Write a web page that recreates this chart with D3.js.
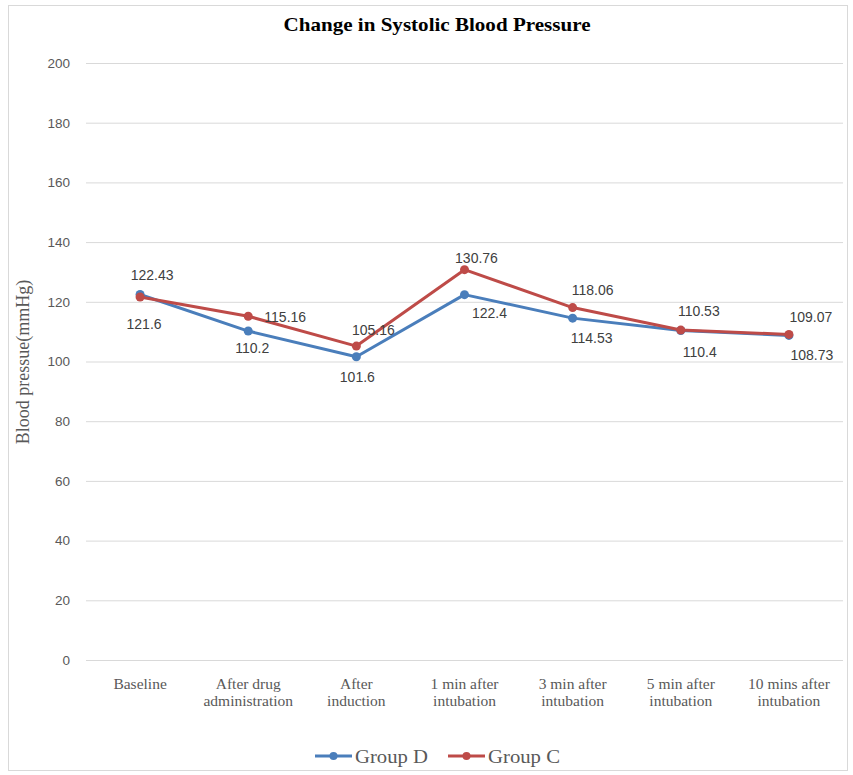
<!DOCTYPE html>
<html>
<head>
<meta charset="utf-8">
<script src="https://cdn.jsdelivr.net/npm/d3@7"></script>
<style>
  html, body { margin: 0; padding: 0; background: #fff; }
  svg { display: block; }
</style>
</head>
<body>
<svg id="chart" width="853" height="775"></svg>
<script>
// Time points along the x axis (two-line labels)
const categories = [
  ["Baseline"],
  ["After drug", "administration"],
  ["After", "induction"],
  ["1 min after", "intubation"],
  ["3 min after", "intubation"],
  ["5 min after", "intubation"],
  ["10 mins after", "intubation"]
];
const groupD = [122.43, 110.2, 101.6, 122.4, 114.53, 110.4, 108.73];
const groupC = [121.6, 115.16, 105.16, 130.76, 118.06, 110.53, 109.07];
const yTicks = [0, 20, 40, 60, 80, 100, 120, 140, 160, 180, 200];

// Label placement relative to each point, [dx, dy] in pixels
const labelOffsetD = [[12,-19],[4,17],[1,20],[25,18],[19,20],[19,22],[23,20]];
const labelOffsetC = [[4,27],[37,1],[17,-16],[12,-12],[20,-17],[18,-19],[22,-17]];

const plot = { left: 86, right: 843, top: 63, bottom: 660 };
const serif = "'Liberation Serif', 'Times New Roman', serif";
const sans = "'Liberation Sans', Arial, sans-serif";

const svg = d3.select("#chart");

// outer frame
svg.append("rect")
  .attr("x", 8.5).attr("y", 5.5)
  .attr("width", 839).attr("height", 765)
  .attr("fill", "#fff").attr("stroke", "#d9d9d9").attr("stroke-width", 1);

const x = d3.scaleBand()
  .domain(d3.range(categories.length))
  .range([plot.left, plot.right]);
const y = d3.scaleLinear().domain([0, 200]).range([plot.bottom, plot.top]);

// title
svg.append("text")
  .attr("x", 437).attr("y", 31)
  .attr("text-anchor", "middle")
  .attr("font-family", serif)
  .attr("font-weight", "bold")
  .attr("font-size", 19)
  .attr("textLength", 307)
  .attr("lengthAdjust", "spacingAndGlyphs")
  .attr("fill", "#000")
  .text("Change in Systolic Blood Pressure");

// horizontal gridlines + y tick labels
const yAxis = d3.axisLeft(y)
  .tickValues(yTicks)
  .tickSize(-(plot.right - plot.left))
  .tickPadding(16);
const gy = svg.append("g")
  .attr("transform", `translate(${plot.left},0)`)
  .call(yAxis);
gy.select(".domain").remove();
gy.selectAll(".tick line").attr("stroke", "#d9d9d9").attr("stroke-width", 1);
gy.selectAll(".tick text")
  .attr("font-family", sans)
  .attr("font-size", 13.5)
  .attr("fill", "#595959");

// y axis title
svg.append("text")
  .attr("transform", `translate(29,362) rotate(-90)`)
  .attr("text-anchor", "middle")
  .attr("font-family", serif)
  .attr("font-size", 18)
  .attr("fill", "#595959")
  .text("Blood pressue(mmHg)");

// x category labels
const xAxis = d3.axisBottom(x).tickSize(0).tickFormat(() => "");
const gx = svg.append("g")
  .attr("transform", `translate(0,${plot.bottom})`)
  .call(xAxis);
gx.select(".domain").remove();
gx.selectAll(".tick").each(function(d) {
  const t = d3.select(this).append("text")
    .attr("text-anchor", "middle")
    .attr("font-family", serif)
    .attr("font-size", 15.5)
    .attr("fill", "#595959");
  categories[d].forEach((line, i) => {
    t.append("tspan").attr("x", 0).attr("y", 29 + i * 17).text(line);
  });
});

const cx = i => x(i) + x.bandwidth() / 2;

const series = [
  { name: "Group D", values: groupD, color: "#4a7ebb", offsets: labelOffsetD },
  { name: "Group C", values: groupC, color: "#be4b48", offsets: labelOffsetC }
];

const line = d3.line().x((d, i) => cx(i)).y(d => y(d));

series.forEach(s => {
  const g = svg.append("g");
  g.append("path")
    .datum(s.values)
    .attr("d", line)
    .attr("fill", "none")
    .attr("stroke", s.color)
    .attr("stroke-width", 3)
    .attr("stroke-linejoin", "round");
  g.selectAll("circle")
    .data(s.values)
    .join("circle")
    .attr("cx", (d, i) => cx(i))
    .attr("cy", d => y(d))
    .attr("r", 4.5)
    .attr("fill", s.color);
});

// data labels
series.forEach(s => {
  svg.append("g").selectAll("text")
    .data(s.values)
    .join("text")
    .attr("x", (d, i) => cx(i) + s.offsets[i][0])
    .attr("y", (d, i) => y(d) + s.offsets[i][1])
    .attr("dy", "0.35em")
    .attr("text-anchor", "middle")
    .attr("font-family", sans)
    .attr("font-size", 14)
    .attr("fill", "#404040")
    .text(d => d);
});

// legend
const legend = svg.append("g").attr("transform", "translate(0,756)");
const legendItems = [
  { s: series[0], x: 315, w: 73 },
  { s: series[1], x: 448, w: 72 }
];
legendItems.forEach(({ s, x: lx, w }) => {
  legend.append("line")
    .attr("x1", lx).attr("x2", lx + 37)
    .attr("y1", 0).attr("y2", 0)
    .attr("stroke", s.color).attr("stroke-width", 3);
  legend.append("circle")
    .attr("cx", lx + 18.5).attr("cy", 0).attr("r", 4)
    .attr("fill", s.color);
  legend.append("text")
    .attr("x", lx + 40).attr("y", 0)
    .attr("dy", "0.35em")
    .attr("font-family", serif)
    .attr("font-size", 19)
    .attr("textLength", w)
    .attr("lengthAdjust", "spacingAndGlyphs")
    .attr("fill", "#595959")
    .text(s.name);
});
</script>
</body>
</html>
